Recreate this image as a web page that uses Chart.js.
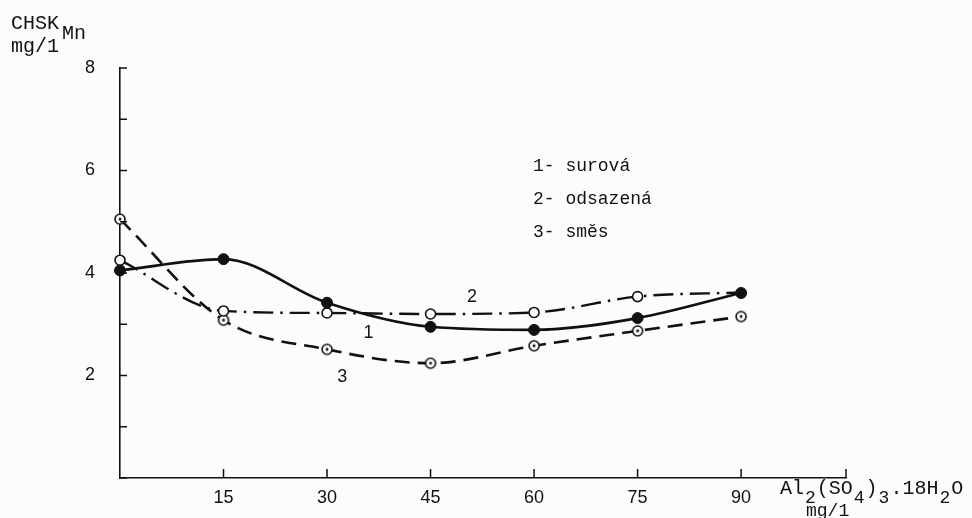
<!DOCTYPE html>
<html><head><meta charset="utf-8">
<script src="https://cdn.jsdelivr.net/npm/chart.js@4/dist/chart.umd.min.js"></script>
<style>html,body{margin:0;padding:0;background:#fcfcfa;}#wrap{position:relative;width:972px;height:518px;}canvas{display:block}</style>
</head><body><div id="wrap"><canvas id="c" width="972" height="518"></canvas></div>
<script>
const doses = [0, 15, 30, 45, 60, 75, 90];
const surova = [4.05, 4.27, 3.42, 2.95, 2.89, 3.12, 3.61];
const odsazena = [4.25, 3.26, 3.22, 3.20, 3.23, 3.54, 3.62];
const smes = [5.05, 3.08, 2.51, 2.24, 2.58, 2.87, 3.15];
const xTicks = [15, 30, 45, 60, 75, 90];
const yTicks = [0, 1, 2, 3, 4, 5, 6, 7, 8];
const yLabelValues = [2, 4, 6, 8];
const seriesNames = ['1- surová', '2- odsazená', '3- směs'];
const curveTags = ['1', '2', '3'];
const curveTagX = [36, 51, 32.2];
const curveTagY = [2.83, 3.54, 1.97];

const INK = '#111111';
const BG = '#fcfcfa';
const pair = (arr) => doses.map((d, i) => ({x: d, y: arr[i]}));

function dotCircle() {
  const c = document.createElement('canvas');
  c.width = 14; c.height = 14;
  const g = c.getContext('2d');
  g.beginPath(); g.arc(7, 7, 5, 0, Math.PI * 2);
  g.fillStyle = BG; g.fill();
  g.lineWidth = 1.6; g.strokeStyle = INK; g.stroke();
  g.beginPath(); g.arc(7, 7, 1.4, 0, Math.PI * 2);
  g.fillStyle = INK; g.fill();
  return c;
}

const decor = {
  id: 'decor',
  afterDraw(chart) {
    const ctx = chart.ctx;
    const xs = chart.scales.x, ys = chart.scales.y;
    const a = chart.chartArea;
    ctx.save();
    ctx.strokeStyle = INK; ctx.lineWidth = 1.5;
    yTicks.forEach(v => {
      const py = ys.getPixelForValue(v);
      ctx.beginPath(); ctx.moveTo(a.left, py); ctx.lineTo(a.left + 7, py); ctx.stroke();
    });
    xTicks.forEach(v => {
      const px = xs.getPixelForValue(v);
      ctx.beginPath(); ctx.moveTo(px, a.bottom); ctx.lineTo(px, a.bottom - 9); ctx.stroke();
    });
    ctx.beginPath(); ctx.moveTo(a.right, a.bottom); ctx.lineTo(a.right, a.bottom - 9); ctx.stroke();

    ctx.fillStyle = INK;
    ctx.textBaseline = 'alphabetic';
    ctx.font = '18px "Liberation Mono", monospace';
    ctx.textAlign = 'left';
    seriesNames.forEach((s, i) => ctx.fillText(s, 533, 171 + i * 33));
    ctx.font = '18px "Liberation Sans", sans-serif';
    ctx.textAlign = 'center'; ctx.textBaseline = 'middle';
    curveTags.forEach((t, i) => ctx.fillText(t, xs.getPixelForValue(curveTagX[i]), ys.getPixelForValue(curveTagY[i])));
    ctx.textAlign = 'left'; ctx.textBaseline = 'alphabetic';
    ctx.font = '20px "Liberation Mono", monospace';
    ctx.fillText('CHSK', 11, 29);
    ctx.fillText('Mn', 62, 39);
    ctx.fillText('mg/1', 11, 52);
    const parts = [['Al', 0], ['2', 1], ['(SO', 0], ['4', 1], [')', 0], ['3', 1], ['.18H', 0], ['2', 1], ['O', 0]];
    let x = 780;
    parts.forEach(([t, sub]) => {
      ctx.font = sub ? '18px "Liberation Mono", monospace' : '20px "Liberation Mono", monospace';
      ctx.fillText(t, x, sub ? 503 : 494);
      x += ctx.measureText(t).width + 1;
    });
    ctx.font = '18px "Liberation Mono", monospace';
    ctx.fillText('mg/1', 806, 516);
    ctx.restore();
  }
};

new Chart(document.getElementById('c'), {
  type: 'line',
  data: {
    datasets: [
      {label: seriesNames[0], data: pair(surova), borderColor: INK, borderWidth: 2.6, clip: false,
       pointStyle: 'circle', pointRadius: 5.5, pointBackgroundColor: INK, pointBorderColor: INK, pointBorderWidth: 1,
       cubicInterpolationMode: 'monotone'},
      {label: seriesNames[1], data: pair(odsazena), borderColor: INK, borderWidth: 2.4, borderDash: [20, 7, 2.5, 7], clip: false,
       pointStyle: 'circle', pointRadius: [5, 5, 5, 5, 5, 5, 0], pointBackgroundColor: BG, pointBorderColor: INK, pointBorderWidth: 1.6,
       cubicInterpolationMode: 'monotone'},
      {label: seriesNames[2], data: pair(smes), borderColor: INK, borderWidth: 2.6, borderDash: [15, 8], clip: false,
       pointStyle: dotCircle(), pointRadius: 6, cubicInterpolationMode: 'monotone'}
    ]
  },
  options: {
    responsive: false, animation: false, devicePixelRatio: 1,
    layout: {padding: {left: 0, top: 68, right: 126, bottom: 0}},
    plugins: {legend: {display: false}, tooltip: {enabled: false}},
    scales: {
      x: {type: 'linear', min: 0, max: 105.2,
          afterBuildTicks: s => { s.ticks = xTicks.map(v => ({value: v})); },
          afterFit: s => { s.height = 40; },
          grid: {display: false, drawTicks: false},
          border: {display: true, color: INK, width: 1.6},
          ticks: {color: INK, padding: 9, font: {family: '"Liberation Sans", sans-serif', size: 18}}},
      y: {type: 'linear', min: 0, max: 8,
          afterBuildTicks: s => { s.ticks = yTicks.map(v => ({value: v})); },
          afterFit: s => { s.width = 120; },
          grid: {display: false, drawTicks: false},
          border: {display: true, color: INK, width: 1.6},
          ticks: {color: INK, padding: 25, font: {family: '"Liberation Sans", sans-serif', size: 18},
                  callback: v => yLabelValues.includes(v) ? String(v) : ''}}
    }
  },
  plugins: [decor]
});
</script></body></html>
